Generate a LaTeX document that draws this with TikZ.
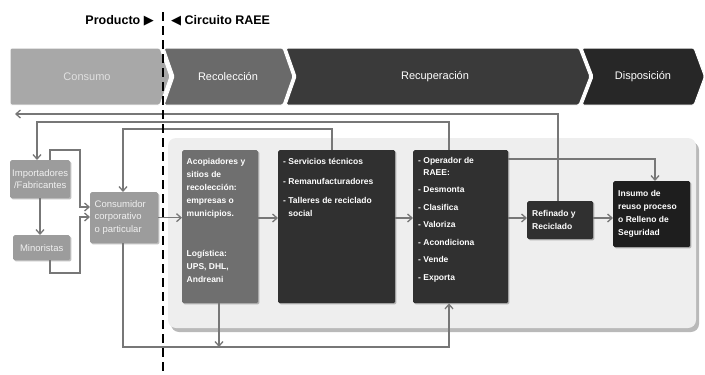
\documentclass[tikz,border=0pt]{standalone}
\usepackage{fontspec}
\setmainfont{Liberation Sans}
\newfontfamily\symfont{DejaVu Sans}
\usetikzlibrary{arrows.meta,calc,shadows}
\definecolor{arrowgray}{HTML}{777777}
\definecolor{chevA}{HTML}{A8A8A8}
\definecolor{chevB}{HTML}{6A6A6A}
\definecolor{chevC}{HTML}{3A3A3A}
\definecolor{chevD}{HTML}{272727}
\definecolor{lightbox}{HTML}{9C9C9C}
\definecolor{midbox}{HTML}{6F6F6F}
\definecolor{darkbox}{HTML}{303030}
\definecolor{blackbox}{HTML}{1E1E1E}
\definecolor{panelfill}{HTML}{EEEEEE}
\definecolor{panelshadow}{HTML}{B9B9B9}
\begin{document}
\begin{tikzpicture}[x=1pt,y=-1pt,
  flow/.style={draw=arrowgray, line width=1.3pt, -{Straight Barb[length=4.5pt,width=8pt]}},
  chev/.style={draw=white, line width=1pt, rounded corners=1.5pt},
  chevtext/.style={font=\fontsize{11}{13}\selectfont, text=white},
  boxbase/.style={anchor=north west, inner sep=0pt, rounded corners=1.5pt,
    drop shadow={shadow xshift=1.2pt, shadow yshift=-1.2pt, fill=black, opacity=0.25}},
  lbox/.style={boxbase, fill=lightbox},
  mbox/.style={boxbase, fill=midbox},
  dbox/.style={boxbase, fill=darkbox},
  kbox/.style={boxbase, fill=blackbox},
  txt/.style={anchor=north west, inner sep=0pt, text=white, align=left,
    font=\bfseries\fontsize{8.5}{12.8}\selectfont},
  ltxt/.style={inner sep=0pt, text=white!94!black, align=left,
    font=\fontsize{9.5}{12.5}\selectfont},
  toplabel/.style={font=\bfseries\fontsize{12.5}{14}\selectfont, inner sep=0pt}
]
\useasboundingbox (0,0) rectangle (705,375);

% ---- phase chevrons
\fill[chevA, chev] (10,48) -- (160,48) -- (170,76.5) -- (160,105) -- (10,105) -- cycle;
\fill[chevB, chev] (164,48) -- (283,48) -- (293,76.5) -- (283,105) -- (164,105) -- (174,76.5) -- cycle;
\fill[chevC, chev] (286,48) -- (579,48) -- (590,76.5) -- (579,105) -- (286,105) -- (296,76.5) -- cycle;
\fill[chevD, chev] (582,48) -- (694,48) -- (704.5,76.5) -- (694,105) -- (582,105) -- (593,76.5) -- cycle;
\node[chevtext, text=white!88!black] (ph1) at (87,77) {Consumo};
\node[chevtext] (ph2) at (228,77) {Recolección};
\node[chevtext] (ph3) at (435,77) {Recuperación};
\node[chevtext] (ph4) at (643,77) {Disposición};

% ---- top labels
\node[toplabel, anchor=base east] (prod) at (154,24) {Producto {\symfont\fontsize{13}{14}\selectfont ▶}};
\node[toplabel, anchor=base west] (circ) at (171,24) {{\symfont\fontsize{13}{14}\selectfont ◀} Circuito RAEE};

% ---- panel
\fill[panelshadow, rounded corners=8pt] (171,142) rectangle (699,332);
\fill[panelfill, rounded corners=8pt] (168,138) rectangle (696,328);

% ---- boxes
\node[lbox, minimum width=60pt, minimum height=38pt] (imp) at (10,160) {};
\node[ltxt, align=center, font=\fontsize{9.5}{12}\selectfont] (impt) at (imp.center) {Importadores\\/Fabricantes};
\node[lbox, minimum width=57pt, minimum height=25pt] (mino) at (13,235) {};
\node[ltxt] (minot) at (mino.center) {Minoristas};
\node[lbox, minimum width=68pt, minimum height=51pt] (cons) at (90,192) {};
\node[ltxt, anchor=north west] (const) at (94.5,200) {Consumidor\\corporativo\\o particular};

\node[mbox, minimum width=76pt, minimum height=153pt] (acop) at (182,150) {};
\node[txt] (acopt) at (186.5,158.5) {Acopiadores y\\sitios de\\recolección:\\empresas o\\municipios.\\[28pt]Logística:\\UPS, DHL,\\Andreani};

\node[dbox, minimum width=117pt, minimum height=153pt] (srv) at (278,150) {};
\node[txt] (srvt) at (283,158.5) {- Servicios técnicos\\[6.5pt]- Remanufacturadores\\[6.5pt]- Talleres de reciclado\\\phantom{- }social};

\node[dbox, minimum width=95pt, minimum height=153pt] (oper) at (413,150) {};
\node[txt, font=\bfseries\fontsize{8.5}{11.3}\selectfont] (opert) at (418,157.5) {- Operador de\\\phantom{- }RAEE:\\[6.2pt]- Desmonta\\[6.2pt]- Clasifica\\[6.2pt]- Valoriza\\[6.2pt]- Acondiciona\\[6.2pt]- Vende\\[6.2pt]- Exporta};

\node[dbox, minimum width=66pt, minimum height=38pt] (ref) at (527,201) {};
\node[txt] (reft) at (532,210.5) {Refinado y\\Reciclado};

\node[kbox, minimum width=77pt, minimum height=66pt] (ins) at (613,181) {};
\node[txt] (inst) at (618,190.5) {Insumo de\\reuso proceso\\o Relleno de\\Seguridad};

% ---- helper coordinates
\coordinate (exit) at (15,114);
\coordinate (ret2) at (37,122);
\coordinate (ret3) at (123,129);
\coordinate (loopTop) at (80,150);
\coordinate (loopA) at (80,207);
\coordinate (loopB) at (80,217);
\coordinate (loopBot) at (80,273);
\coordinate (row) at (0,218);
\coordinate (insIn) at (655,159);
\coordinate (bot) at (123,347);
\coordinate (refTop) at ($(ref.north west)+(31,0)$);
\coordinate (operTop) at ($(oper.north west)+(36,0)$);
\coordinate (operBot) at ($(oper.south west)+(36,0)$);
\coordinate (srvTop) at ($(srv.north west)+(54,0)$);
\coordinate (impTop) at ($(imp.north west)+(40,0)$);
\coordinate (minoBot) at ($(mino.south west)+(37,0)$);
\coordinate (acopBot) at ($(acop.south west)+(37,0)$);

% ---- connectors
\draw[flow] (refTop) |- (exit);
\draw[flow] (operTop) |- (ret2) -- (ret2 |- imp.north);
\draw[flow] (srvTop) |- (ret3) -- (ret3 |- cons.north);
\draw[flow] (impTop) |- (loopTop) -- (loopA) -- (loopA -| cons.west);
\draw[flow] (minoBot) |- (loopBot) -- (loopB) -- (loopB -| cons.west);
\draw[flow] ($(imp.south west)+(30,0)$) -- ($(mino.north west)+(27,0)$);
\draw[flow] (cons.east) -- (cons.east -| acop.west);
\draw[flow] (row -| acop.east) -- (row -| srv.west);
\draw[flow] (row -| srv.east) -- (row -| oper.west);
\draw[flow] (row -| oper.east) -- (row -| ref.west);
\draw[flow] (row -| ref.east) -- (row -| ins.west);
\draw[flow] (insIn -| oper.east) -- (insIn) -- (insIn |- ins.north);
\draw[flow] (bot |- cons.south) -- (bot) -- (bot -| operBot) -- (operBot);
\draw[flow] (acopBot) -- (acopBot |- bot);

% ---- divider
\coordinate (div1) at (163,12);
\coordinate (div2) at (163,375);
\draw[line width=2.6pt, dash pattern=on 9pt off 5pt] (div1) -- (div2);
\end{tikzpicture}
\end{document}
